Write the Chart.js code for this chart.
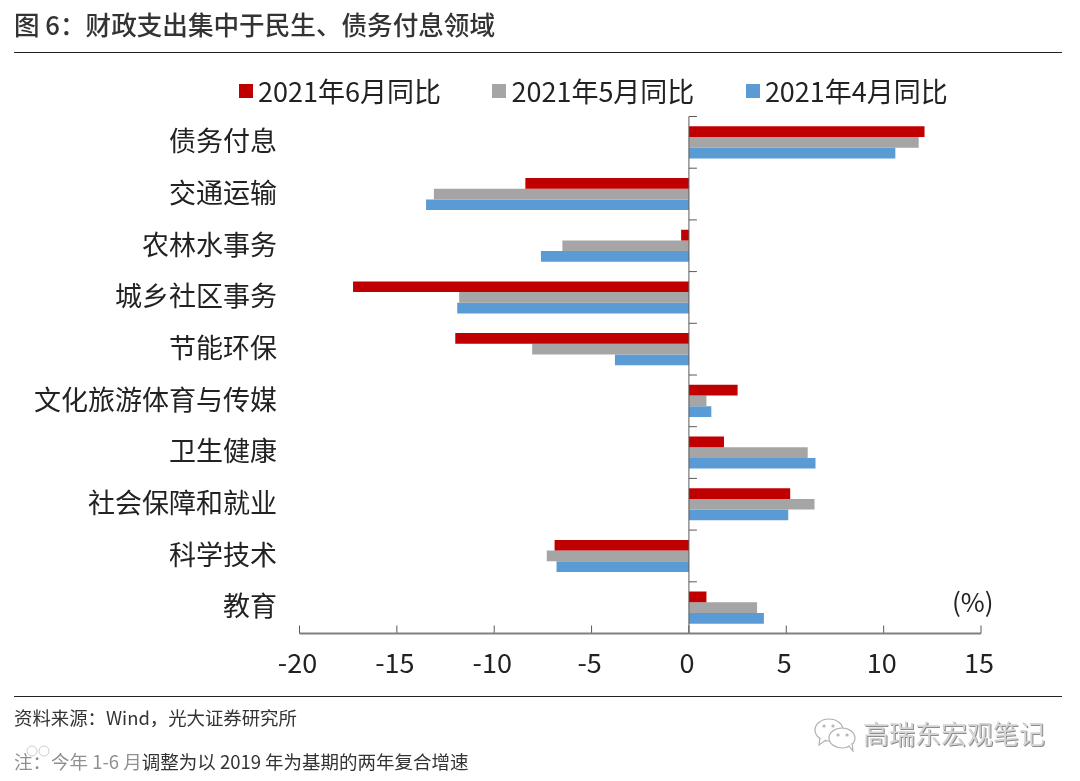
<!DOCTYPE html>
<html>
<head>
<meta charset="utf-8">
<script src="https://cdn.jsdelivr.net/npm/chart.js@4/dist/chart.umd.min.js"></script>
<style>
html, body { margin: 0; padding: 0; background: #fff; }
body { width: 1080px; height: 781px; position: relative; overflow: hidden; font-family: "Noto Sans CJK SC", sans-serif; color: #222; }
canvas { position: absolute; left: 0; top: 0; }
.txt { position: absolute; white-space: nowrap; line-height: 1; }
.rule { position: absolute; left: 14px; width: 1048px; height: 1px; background: #222; }
#title { left: 14px; top: 11px; font-size: 25.6px; font-weight: 500; color: #333; }
#unit { left: 952px; top: 588px; font-size: 26px; color: #222; }
#source { left: 14px; top: 708px; font-size: 18.4px; color: #333; }
#note { left: 14px; top: 752px; font-size: 18.5px; color: #333; }
#mark { left: 863px; top: 720px; font-size: 26px; color: #d4d4d4; text-shadow: 1px 1px 0 #8c8c8c; }
#wechat { position: absolute; left: 814px; top: 718px; }
#ghost { position: absolute; left: 8px; top: 744px; }
#legend { position: absolute; left: 239px; top: 77px; display: flex; gap: 51.5px; font-size: 27px; line-height: 28px; }
#legend .item { display: flex; align-items: center; gap: 5px; }
#legend .box { width: 14px; height: 14px; }
</style>
</head>
<body>
<canvas id="chart" width="1080" height="781"></canvas>
<div class="rule" style="top:52px"></div>
<div class="rule" style="top:696px"></div>
<div class="txt" id="title">图 6：财政支出集中于民生、债务付息领域</div>
<div id="legend"></div>
<div class="txt" id="unit">(%)</div>
<div class="txt" id="source">资料来源：Wind，光大证券研究所</div>
<div class="txt" id="note">注：今年 1-6 月调整为以 2019 年为基期的两年复合增速</div>
<svg id="ghost" width="135" height="34" viewBox="0 0 135 34">
  <rect x="2" y="10" width="130" height="22" rx="3" fill="#fff" fill-opacity="0.45"/>
  <circle cx="24" cy="7" r="5" fill="#fff" stroke="#ccc"/>
  <circle cx="36" cy="7" r="5" fill="#fff" stroke="#ccc"/>
</svg>
<svg id="wechat" width="44" height="34" viewBox="0 0 44 34" fill="#fff" stroke="#b0b0b0" stroke-width="1.2">
  <ellipse cx="15" cy="12" rx="14" ry="11"/>
  <path d="M6 20 L5 27 L12 22"/>
  <ellipse cx="28" cy="20" rx="13" ry="10"/>
  <path d="M35 28 L39 33 L38 25"/>
  <circle cx="10" cy="8" r="1"/>
  <circle cx="19" cy="8" r="1"/>
  <circle cx="24" cy="17" r="1"/>
  <circle cx="33" cy="17" r="1"/>
</svg>
<div class="txt" id="mark">高瑞东宏观笔记</div>
<script>
const categories = ['债务付息', '交通运输', '农林水事务', '城乡社区事务', '节能环保', '文化旅游体育与传媒', '卫生健康', '社会保障和就业', '科学技术', '教育']
const june = [12.1, -8.4, -0.4, -17.25, -12.0, 2.5, 1.8, 5.2, -6.9, 0.9]
const may = [11.8, -13.1, -6.5, -11.8, -8.05, 0.9, 6.1, 6.45, -7.3, 3.5]
const april = [10.6, -13.5, -7.6, -11.9, -3.8, 1.15, 6.5, 5.1, -6.8, 3.85]
const x_ticks = [-20, -15, -10, -5, 0, 5, 10, 15]

const font_name = '"Noto Sans CJK SC", sans-serif'
const tick_color = '#595959'

// Ticks point inward and the category line sits on zero
const axis_marks = {
    id: 'axis_marks',
    afterDatasetsDraw(chart) {
        const ctx = chart.ctx
        const x = chart.scales.x
        const y = chart.scales.y
        const zero = x.getPixelForValue(0)
        ctx.save()
        ctx.strokeStyle = tick_color
        ctx.lineWidth = 1
        ctx.beginPath()
        ctx.moveTo(zero, y.top)
        ctx.lineTo(zero, y.bottom)
        for (let i = 0; i <= categories.length; i++) {
            const py = y.top + (y.bottom - y.top) * i / categories.length
            ctx.moveTo(zero, py)
            ctx.lineTo(zero + 8, py)
        }
        x_ticks.forEach(v => {
            const px = x.getPixelForValue(v)
            ctx.moveTo(px, y.bottom)
            ctx.lineTo(px, y.bottom - 8)
        })
        ctx.stroke()
        ctx.strokeStyle = '#808080'
        ctx.lineWidth = 2
        ctx.beginPath()
        ctx.moveTo(x.left, y.bottom)
        ctx.lineTo(x.right, y.bottom)
        ctx.stroke()
        ctx.restore()
    }
}

function bar_set(label, values, color)
{
    return {
        label: label,
        data: values,
        backgroundColor: color,
        categoryPercentage: 0.62,
        barPercentage: 1,
    }
}

const chart = new Chart(document.getElementById('chart'), {
    type: 'bar',
    plugins: [axis_marks],
    data: {
        labels: categories,
        datasets: [
            bar_set('2021年6月同比', june, '#C00000'),
            bar_set('2021年5月同比', may, '#A5A5A5'),
            bar_set('2021年4月同比', april, '#5B9BD5'),
        ]
    },
    options: {
        indexAxis: 'y',
        responsive: false,
        animation: false,
        devicePixelRatio: 1,
        layout: {
            padding: { left: 0, right: 99, top: 116.5, bottom: 0 }
        },
        plugins: {
            tooltip: { enabled: false },
            legend: { display: false }
        },
        scales: {
            x: {
                min: -20,
                max: 15,
                afterBuildTicks(scale) {
                    scale.ticks = x_ticks.map(v => ({ value: v }))
                },
                afterFit(scale) {
                    scale.height = 147.5
                },
                grid: { display: false },
                border: { display: false },
                ticks: {
                    autoSkip: false,
                    maxRotation: 0,
                    padding: 5.5,
                    labelOffset: -2,
                    color: '#222',
                    font: { family: font_name, size: 27 },
                }
            },
            y: {
                afterFit(scale) {
                    scale.width = 299.5
                },
                grid: { display: false },
                border: { display: false },
                ticks: {
                    autoSkip: false,
                    padding: 14.5,
                    labelOffset: -1.5,
                    color: '#222',
                    font: { family: font_name, size: 27 },
                }
            }
        }
    }
})

// Legend sits in the page so the box to text gap can be set
const legend_el = document.getElementById('legend')
chart.data.datasets.forEach(set => {
    const item = document.createElement('div')
    item.className = 'item'
    const box = document.createElement('div')
    box.className = 'box'
    box.style.background = set.backgroundColor
    const text = document.createElement('span')
    text.textContent = set.label
    item.append(box, text)
    legend_el.append(item)
})
</script>
</body>
</html>
